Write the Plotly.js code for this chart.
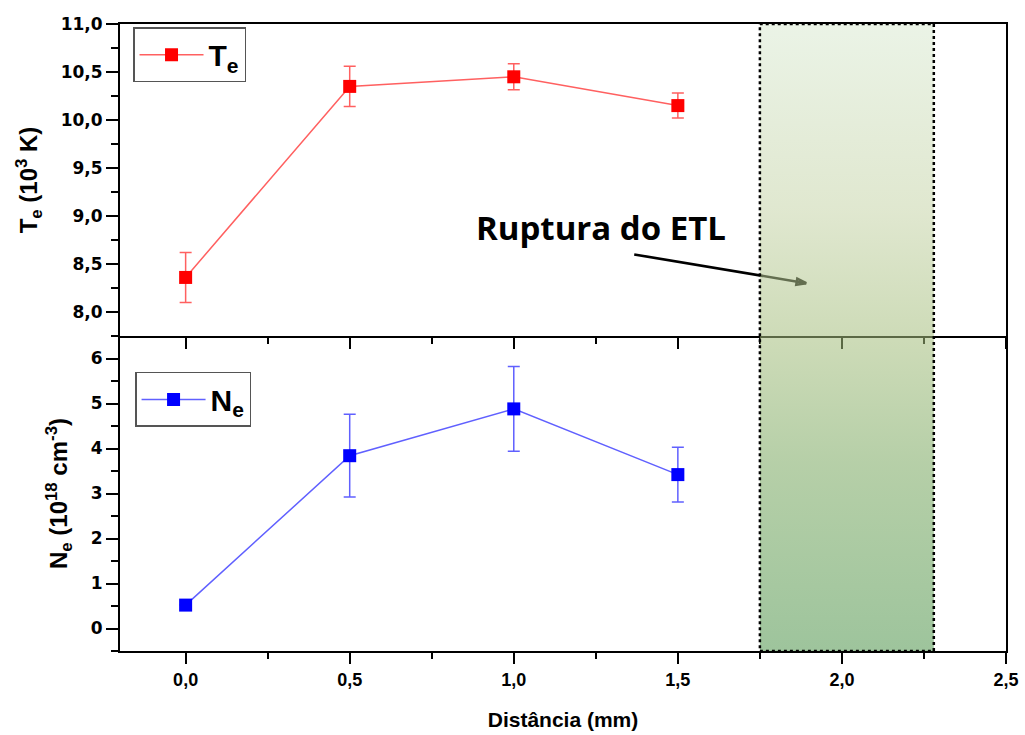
<!DOCTYPE html>
<html>
<head>
<meta charset="utf-8">
<script src="https://cdn.plot.ly/plotly-3.0.1.min.js"></script>
<style>
  html, body { margin: 0; padding: 0; background: #ffffff; }
  #chart { width: 1025px; height: 735px; }
</style>
</head>
<body>
<div id="chart"></div>
<script>
// Distances from the target (mm)
const distance = [0.0, 0.5, 1.0, 1.5];

// Electron temperature (10^3 K) and its uncertainty
const electronTemp = [8.36, 10.35, 10.45, 10.15];
const electronTempErr = [0.26, 0.21, 0.135, 0.13];

// Electron density (10^18 cm^-3) and its uncertainty
const electronDens = [0.52, 3.84, 4.88, 3.42];
const electronDensErr = [0, 0.92, 0.94, 0.61];

// Zone where local thermodynamic equilibrium breaks down (mm)
const etlRegion = [1.75, 2.28];

// Label arrow: tail and tip as [distance, temperature]
const arrowTail = [1.367, 8.60];
const arrowTip = [1.891, 8.30];

const tickFont = { family: 'DejaVu Sans, Liberation Sans, Arial', size: 17, color: '#000', weight: 'bold' };
const xFont = { family: 'Liberation Sans, Arial', size: 18, color: '#000', weight: 'bold' };
const titleFont = { family: 'Liberation Sans, Arial', size: 24, color: '#000', weight: 'bold' };

const teTrace = {
  x: distance, y: electronTemp,
  xaxis: 'x2', yaxis: 'y2',
  type: 'scatter', mode: 'lines+markers',
  name: 'T<sub>e</sub>',
  legend: 'legend',
  line: { color: '#ff6060', width: 1.5 },
  marker: { symbol: 'square', size: 13, color: '#ff0000' },
  error_y: { type: 'data', array: electronTempErr, visible: true, color: '#ff6060', thickness: 1.5, width: 6 }
};

const neTrace = {
  x: distance, y: electronDens,
  xaxis: 'x', yaxis: 'y',
  type: 'scatter', mode: 'lines+markers',
  name: 'N<sub>e</sub>',
  legend: 'legend2',
  line: { color: '#6060ff', width: 1.5 },
  marker: { symbol: 'square', size: 13, color: '#0000ff' },
  error_y: { type: 'data', array: electronDensErr, visible: true, color: '#6060ff', thickness: 1.5, width: 6 }
};

// Arrow pointing into the shaded zone
const arrowTrace = {
  x: [arrowTail[0], arrowTip[0]], y: [arrowTail[1], arrowTip[1]],
  xaxis: 'x2', yaxis: 'y2',
  type: 'scatter', mode: 'lines+markers',
  showlegend: false, hoverinfo: 'skip',
  line: { color: '#000', width: 2.5 },
  marker: { symbol: 'arrow-open', size: 10, angleref: 'previous', color: '#000', line: { color: '#000', width: 2.5 } }
};

// Shaded zone spanning both panels, drawn on its own full-height overlay
const zoneX = [etlRegion[0], etlRegion[1], etlRegion[1], etlRegion[0], etlRegion[0]];
const zoneY = [0, 0, 1, 1, 0];

const zoneFill = {
  x: zoneX, y: zoneY,
  xaxis: 'x3', yaxis: 'y3',
  type: 'scatter', mode: 'none',
  fill: 'toself',
  opacity: 0.55,
  fillgradient: {
    type: 'vertical',
    colorscale: [
      [0.0, 'rgb(78,148,75)'],
      [0.3, 'rgb(122,168,96)'],
      [0.5, 'rgb(165,190,125)'],
      [0.7, 'rgb(198,212,168)'],
      [1.0, 'rgb(218,234,210)']
    ]
  },
  showlegend: false, hoverinfo: 'skip'
};

const zoneBorder = {
  x: zoneX, y: zoneY,
  xaxis: 'x3', yaxis: 'y3',
  type: 'scatter', mode: 'lines',
  line: { color: '#000', width: 2.5, dash: 'dot' },
  showlegend: false, hoverinfo: 'skip'
};

const xRange = [-0.2, 2.5];
const split = 315 / 627;

const commonX = {
  range: xRange,
  tick0: 0, dtick: 0.5,
  tickformat: '.1f',
  ticks: 'outside', ticklen: 11, tickwidth: 2, tickcolor: '#000',
  minor: { dtick: 0.25, ticks: 'outside', ticklen: 6, tickwidth: 2, tickcolor: '#000' },
  showline: true, linewidth: 2, linecolor: '#000',
  showgrid: false, zeroline: false,
  domain: [0, 1]
};

const layout = {
  width: 1025, height: 735,
  margin: { l: 120, r: 19, t: 24, b: 84 },
  paper_bgcolor: '#fff', plot_bgcolor: 'rgba(0,0,0,0)',
  separators: ',.',
  showlegend: true,
  hovermode: false,
  xaxis: Object.assign({}, commonX, {
    anchor: 'y',
    mirror: false,
    tickfont: xFont,
    title: { text: 'Distância (mm)', font: { family: 'Liberation Sans, Arial', size: 21, color: '#000', weight: 'bold' }, standoff: 24 }
  }),
  yaxis: {
    domain: [0, split],
    anchor: 'x',
    range: [-0.5, 6.5],
    tick0: 0, dtick: 1,
    tickformat: 'd',
    ticks: 'outside', ticklen: 12, tickwidth: 2, tickcolor: '#000',
    minor: { dtick: 0.5, ticks: 'outside', ticklen: 7, tickwidth: 2, tickcolor: '#000' },
    showline: true, linewidth: 2, linecolor: '#000', mirror: true,
    showgrid: false, zeroline: false,
    tickfont: tickFont,
    title: { text: 'N<sub>e</sub> (10<sup>18</sup> cm<sup>-3</sup>)', font: titleFont, standoff: 16 }
  },
  xaxis2: Object.assign({}, commonX, {
    anchor: 'y2',
    matches: 'x',
    mirror: true,
    showticklabels: false
  }),
  yaxis2: {
    domain: [split, 1],
    anchor: 'x2',
    range: [7.75, 11.0],
    tick0: 8, dtick: 0.5,
    tickformat: '.1f',
    ticks: 'outside', ticklen: 12, tickwidth: 2, tickcolor: '#000',
    minor: { dtick: 0.25, ticks: 'outside', ticklen: 7, tickwidth: 2, tickcolor: '#000' },
    showline: true, linewidth: 2, linecolor: '#000', mirror: true,
    showgrid: false, zeroline: false,
    tickfont: tickFont,
    title: { text: 'T<sub>e</sub> (10<sup>3</sup> K)', font: titleFont, standoff: 16 }
  },
  xaxis3: {
    anchor: 'y3', domain: [0, 1], range: xRange, visible: false, fixedrange: true
  },
  yaxis3: {
    anchor: 'x3', domain: [0, 1], range: [0, 1], visible: false, fixedrange: true
  },
  legend: {
    x: 0.0147, y: 0.995, xanchor: 'left', yanchor: 'top',
    bgcolor: '#fff', bordercolor: '#555', borderwidth: 1.5,
    font: { family: 'Liberation Sans, Arial', size: 30, color: '#000', weight: 'bold' },
    itemwidth: 64
  },
  legend2: {
    x: 0.017, y: 0.445, xanchor: 'left', yanchor: 'top',
    bgcolor: '#fff', bordercolor: '#555', borderwidth: 1.5,
    font: { family: 'Liberation Sans, Arial', size: 30, color: '#000', weight: 'bold' },
    itemwidth: 64
  },
  annotations: [{
    text: 'Ruptura do ETL',
    xref: 'paper', yref: 'paper',
    x: 0.543, y: 0.676,
    xanchor: 'center', yanchor: 'middle',
    showarrow: false,
    font: { family: 'Open Sans, Noto Sans, Arial', size: 33, color: '#000', weight: 'bold' }
  }]
};

Plotly.newPlot('chart', [neTrace, teTrace, arrowTrace, zoneFill, zoneBorder], layout, { staticPlot: true, displayModeBar: false });
</script>
</body>
</html>
